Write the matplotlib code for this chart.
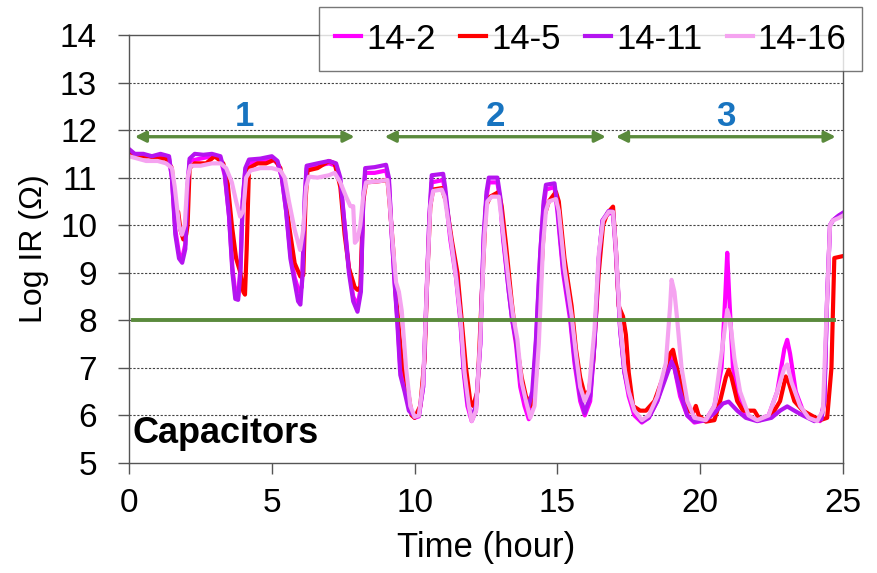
import matplotlib.pyplot as plt

plt.rcParams['font.family'] = ['Liberation Sans', 'DejaVu Sans']

# --- DATA ---
t_142 = [0, 0.3, 0.7, 1.0, 1.4, 1.5, 1.62, 1.75, 1.86, 1.97, 2.05, 2.12, 2.5, 2.9, 3.2, 3.35, 3.5, 3.62, 3.72, 3.82,
         3.9, 3.98, 4.07, 4.2, 4.6, 5.0, 5.2, 5.35, 5.5, 5.65, 5.8, 5.95, 6.05, 6.15, 6.22, 6.6, 7.0, 7.25, 7.4, 7.55,
         7.7, 7.85, 8.0, 8.12, 8.2, 8.27, 8.6, 9.0, 9.1, 9.2, 9.3, 9.4, 9.5, 9.65, 9.8, 10.0, 10.15, 10.3, 10.42, 10.52,
         10.6, 11.0, 11.07, 11.25, 11.45, 11.6, 11.72, 11.85, 12.0, 12.15, 12.3, 12.42, 12.52, 12.6, 12.9, 13.0, 13.1,
         13.3, 13.42, 13.55, 13.7, 13.85, 14.0, 14.12, 14.25, 14.4, 14.52, 14.6, 14.9, 15.0, 15.2, 15.45, 15.6, 15.8,
         15.96, 16.15, 16.3, 16.45, 16.58, 16.8, 16.95, 17.05, 17.2, 17.35, 17.5, 17.7, 17.96, 18.2, 18.5, 18.8, 19.0,
         19.1, 19.3, 19.55, 19.8, 20.2, 20.5, 20.75, 20.88, 20.95, 21.02, 21.15, 21.35, 21.6, 22.0, 22.4, 22.7, 22.95,
         23.05, 23.15, 23.35, 23.6, 23.9, 24.2, 24.35, 24.45, 24.55, 24.65, 24.85, 25.0]
ir_142 = [11.55, 11.45, 11.45, 11.45, 11.4, 11.0, 9.9, 9.4, 9.3, 9.6, 10.8, 11.35, 11.4, 11.45, 11.4, 11.05, 10.2, 9.1,
          8.6, 8.5, 9.1, 10.5, 11.15, 11.3, 11.35, 11.4, 11.3, 11.0, 10.3, 9.4, 8.9, 8.6, 8.7, 10.4, 11.2, 11.25, 11.3,
          11.25, 10.9, 10.0, 9.1, 8.5, 8.3, 8.7, 10.5, 11.1, 11.1, 11.15, 10.9, 9.8, 8.8, 8.0, 7.0, 6.6, 6.2, 5.95,
          5.98, 6.6, 8.6, 10.2, 10.9, 10.95, 10.7, 9.7, 8.9, 8.0, 6.9, 6.2, 5.88, 6.1, 7.5, 9.7, 10.6, 10.9, 10.9,
          10.5, 9.7, 8.6, 8.0, 7.5, 6.6, 6.2, 5.92, 6.2, 7.5, 9.4, 10.4, 10.75, 10.8, 10.3, 9.0, 8.0, 7.1, 6.3, 6.0,
          6.3, 7.5, 9.3, 10.1, 10.25, 10.25, 9.4, 7.8, 6.9, 6.4, 6.0, 5.85, 5.95, 6.3, 6.9, 7.25, 7.0, 6.4, 6.0, 5.85,
          5.9, 6.2, 7.0, 8.5, 9.42, 8.5, 7.0, 6.4, 6.0, 5.9, 6.0, 6.5, 7.4, 7.59, 7.3, 6.5, 6.1, 5.95, 5.88, 6.3, 8.5,
          10.0, 10.1, 10.2, 10.25]

t_145 = [0, 0.3, 0.7, 1.0, 1.3, 1.5, 1.6, 1.72, 1.8, 1.9, 2.0, 2.05, 2.12, 2.3, 2.7, 3.0, 3.3, 3.45, 3.6, 3.75, 3.9,
         4.0, 4.06, 4.12, 4.2, 4.5, 4.8, 5.1, 5.3, 5.45, 5.6, 5.8, 6.0, 6.1, 6.18, 6.25, 6.6, 7.0, 7.2, 7.4, 7.55, 7.7,
         7.9, 8.0, 8.1, 8.2, 8.3, 8.7, 9.05, 9.12, 9.25, 9.35, 9.45, 9.55, 9.75, 9.9, 10.0, 10.2, 10.35, 10.45, 10.55,
         10.65, 10.95, 11.1, 11.3, 11.5, 11.65, 11.8, 11.95, 12.05, 12.2, 12.35, 12.5, 12.65, 12.95, 13.05, 13.2, 13.4,
         13.55, 13.75, 13.9, 14.1, 14.25, 14.4, 14.55, 14.7, 14.95, 15.05, 15.25, 15.5, 15.65, 15.8, 15.95, 16.1,
         16.25, 16.45, 16.6, 16.75, 16.95, 17.05, 17.15, 17.3, 17.4, 17.5, 17.65, 17.9, 18.1, 18.4, 18.7, 18.95, 19.05,
         19.15, 19.4, 19.6, 19.75, 19.85, 19.95, 20.2, 20.5, 20.7, 20.9, 21.0, 21.1, 21.3, 21.5, 21.9, 22.1, 22.5,
         22.8, 23.0, 23.1, 23.3, 23.6, 23.9, 24.2, 24.45, 24.6, 24.7, 25.0]
ir_145 = [11.5, 11.45, 11.45, 11.4, 11.4, 11.2, 10.3, 10.28, 9.9, 9.7, 9.8, 10.0, 11.2, 11.3, 11.3, 11.45, 11.3, 10.9,
          10.0, 9.3, 9.0, 8.6, 8.54, 9.5, 11.2, 11.3, 11.3, 11.38, 11.2, 10.7, 10.0, 9.2, 8.92, 8.95, 10.5, 11.15,
          11.2, 11.35, 11.3, 10.8, 9.8, 9.1, 8.7, 8.64, 8.7, 10.5, 10.9, 10.92, 10.95, 10.5, 9.5, 8.5, 7.8, 7.2, 6.6,
          6.0, 5.95, 6.2, 7.2, 9.0, 10.4, 10.75, 10.78, 10.5, 9.7, 9.0, 8.0, 7.0, 6.3, 6.2, 6.5, 8.5, 10.4, 10.6, 10.7,
          10.4, 9.6, 8.4, 7.6, 6.8, 6.4, 6.2, 6.8, 8.6, 10.2, 10.5, 10.7, 10.5, 9.3, 8.3, 7.4, 6.8, 6.45, 6.5, 7.1,
          9.0, 10.0, 10.25, 10.39, 9.5, 8.3, 8.08, 7.7, 6.9, 6.2, 6.1, 6.1, 6.3, 6.8, 7.3, 7.38, 7.1, 6.5, 6.1, 6.05,
          6.2, 6.0, 5.87, 5.9, 6.3, 6.8, 6.96, 6.8, 6.3, 6.1, 6.1, 5.9, 6.0, 6.3, 6.82, 6.7, 6.3, 6.1, 6.0, 5.9, 5.95,
          7.0, 9.31, 9.35]

t_1411 = [0, 0.2, 0.5, 0.8, 1.1, 1.4, 1.5, 1.62, 1.75, 1.86, 1.97, 2.05, 2.12, 2.3, 2.6, 2.9, 3.2, 3.35, 3.5, 3.62,
          3.72, 3.82, 3.9, 3.98, 4.07, 4.2, 4.6, 5.0, 5.2, 5.35, 5.5, 5.65, 5.8, 5.92, 6.0, 6.08, 6.15, 6.22, 6.6, 7.0,
          7.25, 7.4, 7.55, 7.7, 7.85, 8.0, 8.12, 8.2, 8.27, 8.6, 9.0, 9.1, 9.2, 9.3, 9.4, 9.5, 9.65, 9.8, 10.0, 10.15,
          10.3, 10.42, 10.52, 10.6, 11.0, 11.07, 11.25, 11.45, 11.6, 11.72, 11.85, 12.0, 12.15, 12.3, 12.42, 12.52,
          12.6, 12.9, 13.0, 13.1, 13.3, 13.42, 13.55, 13.7, 13.85, 14.0, 14.12, 14.25, 14.4, 14.52, 14.6, 14.9, 15.0,
          15.2, 15.45, 15.6, 15.8, 15.96, 16.15, 16.3, 16.45, 16.58, 16.8, 16.95, 17.05, 17.2, 17.35, 17.5, 17.7,
          17.96, 18.2, 18.5, 18.8, 19.0, 19.1, 19.3, 19.55, 19.8, 20.2, 20.5, 20.8, 21.0, 21.3, 21.6, 22.0, 22.5,
          22.8, 23.05, 23.3, 23.6, 24.0, 24.25, 24.35, 24.45, 24.55, 24.65, 24.85, 25.0]
ir_1411 = [11.6, 11.5, 11.5, 11.45, 11.5, 11.45, 11.0, 9.8, 9.3, 9.21, 9.5, 10.8, 11.4, 11.5, 11.48, 11.5, 11.45,
           11.1, 10.2, 9.0, 8.45, 8.43, 9.0, 10.5, 11.2, 11.38, 11.4, 11.45, 11.35, 11.0, 10.3, 9.3, 8.8, 8.4, 8.33,
           9.0, 10.6, 11.25, 11.3, 11.35, 11.3, 11.0, 10.0, 9.0, 8.4, 8.18, 8.6, 10.5, 11.2, 11.22, 11.27, 11.0, 9.8,
           8.8, 7.9, 6.85, 6.5, 6.1, 5.97, 6.0, 6.6, 8.5, 10.2, 11.05, 11.08, 10.8, 9.8, 9.0, 8.1, 7.0, 6.3, 5.95,
           6.2, 7.5, 9.8, 10.7, 11.0, 11.0, 10.6, 9.8, 8.6, 8.0, 7.6, 6.8, 6.35, 6.2, 6.5, 7.6, 9.4, 10.5, 10.85,
           10.88, 10.4, 9.1, 8.1, 7.2, 6.4, 6.05, 6.4, 7.5, 9.3, 10.1, 10.3, 10.28, 9.5, 7.8, 6.9, 6.5, 6.1, 5.87,
           5.95, 6.3, 6.8, 7.13, 7.0, 6.5, 6.0, 5.87, 5.9, 6.05, 6.25, 6.29, 6.1, 5.95, 5.88, 5.95, 6.1, 6.19, 6.1,
           6.0, 5.88, 5.92, 6.3, 8.5, 10.0, 10.1, 10.2, 10.26]

t_1416 = [0, 0.3, 0.6, 1.0, 1.3, 1.5, 1.6, 1.75, 1.85, 1.95, 2.05, 2.15, 2.5, 2.9, 3.2, 3.4, 3.6, 3.75, 3.89, 4.0,
          4.1, 4.25, 4.6, 5.0, 5.3, 5.45, 5.6, 5.8, 5.99, 6.1, 6.2, 6.3, 6.6, 7.0, 7.2, 7.4, 7.6, 7.75, 7.85, 7.91, 8.0,
          8.1, 8.2, 8.3, 8.7, 9.05, 9.12, 9.25, 9.35, 9.45, 9.55, 9.7, 9.85, 10.0, 10.15, 10.3, 10.45, 10.55, 10.65,
          10.95, 11.05, 11.25, 11.45, 11.6, 11.75, 11.9, 12.0, 12.15, 12.3, 12.45, 12.55, 12.7, 12.95, 13.05, 13.3,
          13.45, 13.6, 13.75, 13.9, 14.05, 14.2, 14.35, 14.5, 14.6, 14.7, 14.95, 15.05, 15.25, 15.5, 15.65, 15.8,
          15.96, 16.1, 16.3, 16.45, 16.6, 16.8, 16.95, 17.05, 17.2, 17.35, 17.5, 17.7, 17.96, 18.2, 18.5, 18.8, 18.95,
          19.0, 19.1, 19.2, 19.35, 19.55, 19.8, 20.2, 20.5, 20.75, 20.95, 21.05, 21.2, 21.4, 21.7, 22.0, 22.4, 22.7,
          22.95, 23.05, 23.2, 23.5, 23.8, 24.1, 24.3, 24.45, 24.55, 24.65, 24.85, 25.0]
ir_1416 = [11.45, 11.4, 11.35, 11.35, 11.3, 11.2, 10.8, 10.0, 9.8, 10.0, 11.0, 11.25, 11.25, 11.3, 11.3, 11.2, 10.9,
           10.5, 10.18, 10.3, 11.0, 11.15, 11.2, 11.2, 11.15, 11.0, 10.5, 9.9, 9.48, 9.9, 10.8, 11.02, 11.0, 11.05,
           11.1, 10.9, 10.6, 10.4, 10.4, 9.63, 9.7, 10.0, 10.6, 10.9, 10.92, 10.95, 10.5, 9.5, 8.8, 8.6, 8.2, 7.0, 6.2,
           5.97, 6.0, 6.7, 9.0, 10.4, 10.72, 10.75, 10.6, 9.8, 8.9, 8.1, 6.9, 6.2, 5.88, 6.1, 7.6, 9.8, 10.5, 10.6,
           10.6, 10.1, 8.8, 8.1, 7.6, 6.7, 6.3, 5.95, 6.2, 7.5, 9.6, 10.3, 10.5, 10.55, 10.3, 9.1, 8.1, 7.3, 6.6, 6.3,
           6.5, 7.8, 9.4, 10.1, 10.28, 10.28, 9.5, 7.9, 7.0, 6.5, 6.1, 5.9, 6.0, 6.4, 7.1, 8.3, 8.85, 8.6, 8.0, 7.0,
           6.3, 5.95, 5.9, 6.2, 7.3, 8.22, 8.0, 7.2, 6.5, 6.0, 5.9, 6.0, 6.5, 7.0, 7.07, 6.7, 6.2, 5.95, 5.88, 6.1,
           8.5, 10.0, 10.1, 10.15, 10.2]

series = [("14-2", t_142, ir_142, "#FF00FF"),
          ("14-5", t_145, ir_145, "#FF0000"),
          ("14-11", t_1411, ir_1411, "#B414F0"),
          ("14-16", t_1416, ir_1416, "#F5A3F0")]

stages = ["1", "2", "3"]
stage_start = [0.2, 8.95, 17.05]
stage_end = [7.9, 16.7, 24.75]
stage_y = 11.86
threshold = 8

GREEN = "#5A8A3C"
BLUE = "#1874C0"

fig = plt.figure(figsize=(8.78, 5.73), dpi=100)
ax = fig.add_axes([0.147, 0.192, 0.813, 0.747])

for name, t, v, c in series:
    ax.plot(t, v, color=c, lw=3.0, label=name, solid_joinstyle='round')

ax.plot([0.15, 24.7], [threshold, threshold], color=GREEN, lw=2.8, zorder=5)

for lab, a, b in zip(stages, stage_start, stage_end):
    ax.annotate("", xy=(a, stage_y), xytext=(b, stage_y),
                arrowprops=dict(arrowstyle="<|-|>", color=GREEN, lw=2.4,
                                mutation_scale=16, shrinkA=0, shrinkB=0))
    ax.text((a + b) / 2, stage_y + 0.08, lab, color=BLUE, fontsize=25,
            fontweight='bold', ha='center', va='bottom')

ax.text(0.12, 5.62, "Capacitors", fontsize=26, fontweight='bold', ha='left', va='center')

ax.set_xlim(0, 25)
ax.set_ylim(5, 14)
ax.set_xticks([0, 5, 10, 15, 20, 25])
ax.set_yticks(range(5, 15))
ax.tick_params(direction='out', length=8, width=1, labelsize=24, color='#555555')
ax.tick_params(axis='y', pad=15)
ax.tick_params(axis='x', pad=10)
for y in range(6, 14):
    ax.axhline(y, color='#444444', lw=0.8, ls=(0, (2, 1.5)), zorder=0)
for s in ax.spines.values():
    s.set_color('#555555')
    s.set_linewidth(1)

ax.set_xlabel("Time (hour)", fontsize=25, labelpad=9)
ax.set_ylabel("Log IR (Ω)", fontsize=23, labelpad=8)

fig.legend(loc='upper right', bbox_to_anchor=(0.982, 0.988), ncol=4, fontsize=25,
           handlelength=0.75, handletextpad=0.15, columnspacing=0.7, frameon=True,
           fancybox=False, edgecolor='#555555', borderpad=0.45, borderaxespad=0)

fig.savefig("out.png", dpi=100)
